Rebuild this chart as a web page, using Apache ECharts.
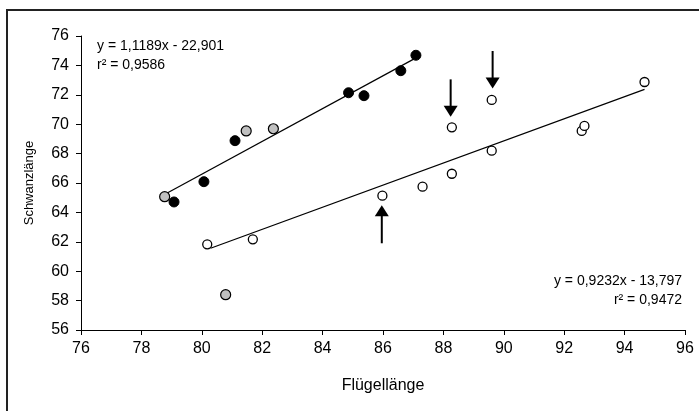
<!DOCTYPE html>
<html>
<head>
<meta charset="utf-8">
<script src="https://cdn.jsdelivr.net/npm/echarts@6/dist/echarts.min.js"></script>
<style>
html,body{margin:0;padding:0;background:#fff;}
#c{width:699px;height:411px;}
</style>
</head>
<body>
<div id="c"></div>
<script>
// Data
var blackPoints = [[79.08,64.71],[80.07,66.09],[81.10,68.88],[84.86,72.14],[85.37,71.94],[86.59,73.64],[87.09,74.69]];
var grayPoints = [[78.77,65.07],[81.47,69.54],[82.37,69.69],[80.79,58.40]];
var openPoints = [[80.18,61.83],[81.69,62.17],[85.98,65.14],[87.31,65.75],[88.28,66.63],[88.28,69.79],[89.60,68.20],[89.60,71.65],[92.58,69.54],[92.67,69.88],[94.66,72.87]];
var trendA = [[78.84,65.30],[87.00,74.41]];
var trendB = [[80.29,61.56],[94.66,72.37]];
var arrowShafts = [
  [[88.24,73.05],[88.24,70.88]],
  [[89.63,74.98],[89.63,72.80]],
  [[85.96,61.90],[85.96,64.12]]
];
var arrowHeadsDown = [[88.24,70.88],[89.63,72.80]];
var arrowHeadsUp = [[85.96,64.12]];
var eqA = ['y = 1,1189x - 22,901','r² = 0,9586'];
var eqB = ['y = 0,9232x - 13,797','r² = 0,9472'];
var xName = 'Flügellänge';
var yName = 'Schwanzlänge';

var FONT = 'Liberation Sans, Arial, sans-serif';
var chart = echarts.init(document.getElementById('c'));

var series = [
  {type:'line', data:trendA, symbol:'none', lineStyle:{color:'#000',width:1.2,opacity:1}, z:2, silent:true},
  {type:'line', data:trendB, symbol:'none', lineStyle:{color:'#000',width:1.2,opacity:1}, z:2, silent:true},
  {type:'scatter', data:blackPoints, symbol:'circle', symbolSize:10, itemStyle:{color:'#000',borderColor:'#000',borderWidth:1,opacity:1}, z:3},
  {type:'scatter', data:grayPoints, symbol:'circle', symbolSize:10, itemStyle:{color:'#c0c0c0',borderColor:'#000',borderWidth:1.2,opacity:1}, z:3},
  {type:'scatter', data:openPoints, symbol:'circle', symbolSize:9, itemStyle:{color:'#fff',borderColor:'#000',borderWidth:1.3,opacity:1}, z:3},
  {type:'scatter', data:arrowHeadsDown, symbol:'triangle', symbolSize:[14,11], symbolRotate:180, itemStyle:{color:'#000',opacity:1}, z:4},
  {type:'scatter', data:arrowHeadsUp, symbol:'triangle', symbolSize:[14,11], itemStyle:{color:'#000',opacity:1}, z:4}
];
arrowShafts.forEach(function(s){
  series.push({type:'line', data:s, symbol:'none', lineStyle:{color:'#000',width:2,opacity:1}, z:4, silent:true});
});

chart.setOption({
  animation:false,
  backgroundColor:'#fff',
  grid:{left:81,right:14,top:36,bottom:81,containLabel:false},
  xAxis:{
    type:'value', min:76, max:96, interval:2,
    axisLine:{show:true,lineStyle:{color:'#000',width:1}},
    axisTick:{show:true,length:5,lineStyle:{color:'#000'}},
    axisLabel:{color:'#000',fontFamily:FONT,fontSize:16,margin:11},
    splitLine:{show:false},
    name:xName, nameLocation:'middle', nameGap:48,
    nameTextStyle:{color:'#000',fontFamily:FONT,fontSize:16}
  },
  yAxis:{
    type:'value', min:56, max:76, interval:2,
    axisLine:{show:true,lineStyle:{color:'#000',width:1}},
    axisTick:{show:true,length:5,lineStyle:{color:'#000'}},
    axisLabel:{color:'#000',fontFamily:FONT,fontSize:16,margin:12},
    splitLine:{show:false},
    name:yName, nameLocation:'middle', nameGap:45,
    nameTextStyle:{color:'#000',fontFamily:FONT,fontSize:13}
  },
  graphic:[
    {type:'rect', shape:{x:7,y:10,width:720,height:420}, style:{fill:'none',stroke:'#222',lineWidth:2}, z:0, silent:true},
    {type:'text', left:97, top:39, style:{text:eqA[0],fill:'#000',font:'14px '+FONT}},
    {type:'text', left:97, top:58, style:{text:eqA[1],fill:'#000',font:'14px '+FONT}},
    {type:'text', right:17, top:274, style:{text:eqB[0],fill:'#000',font:'14px '+FONT,textAlign:'right'}},
    {type:'text', right:17, top:293, style:{text:eqB[1],fill:'#000',font:'14px '+FONT,textAlign:'right'}}
  ],
  series:series
});
</script>
</body>
</html>
